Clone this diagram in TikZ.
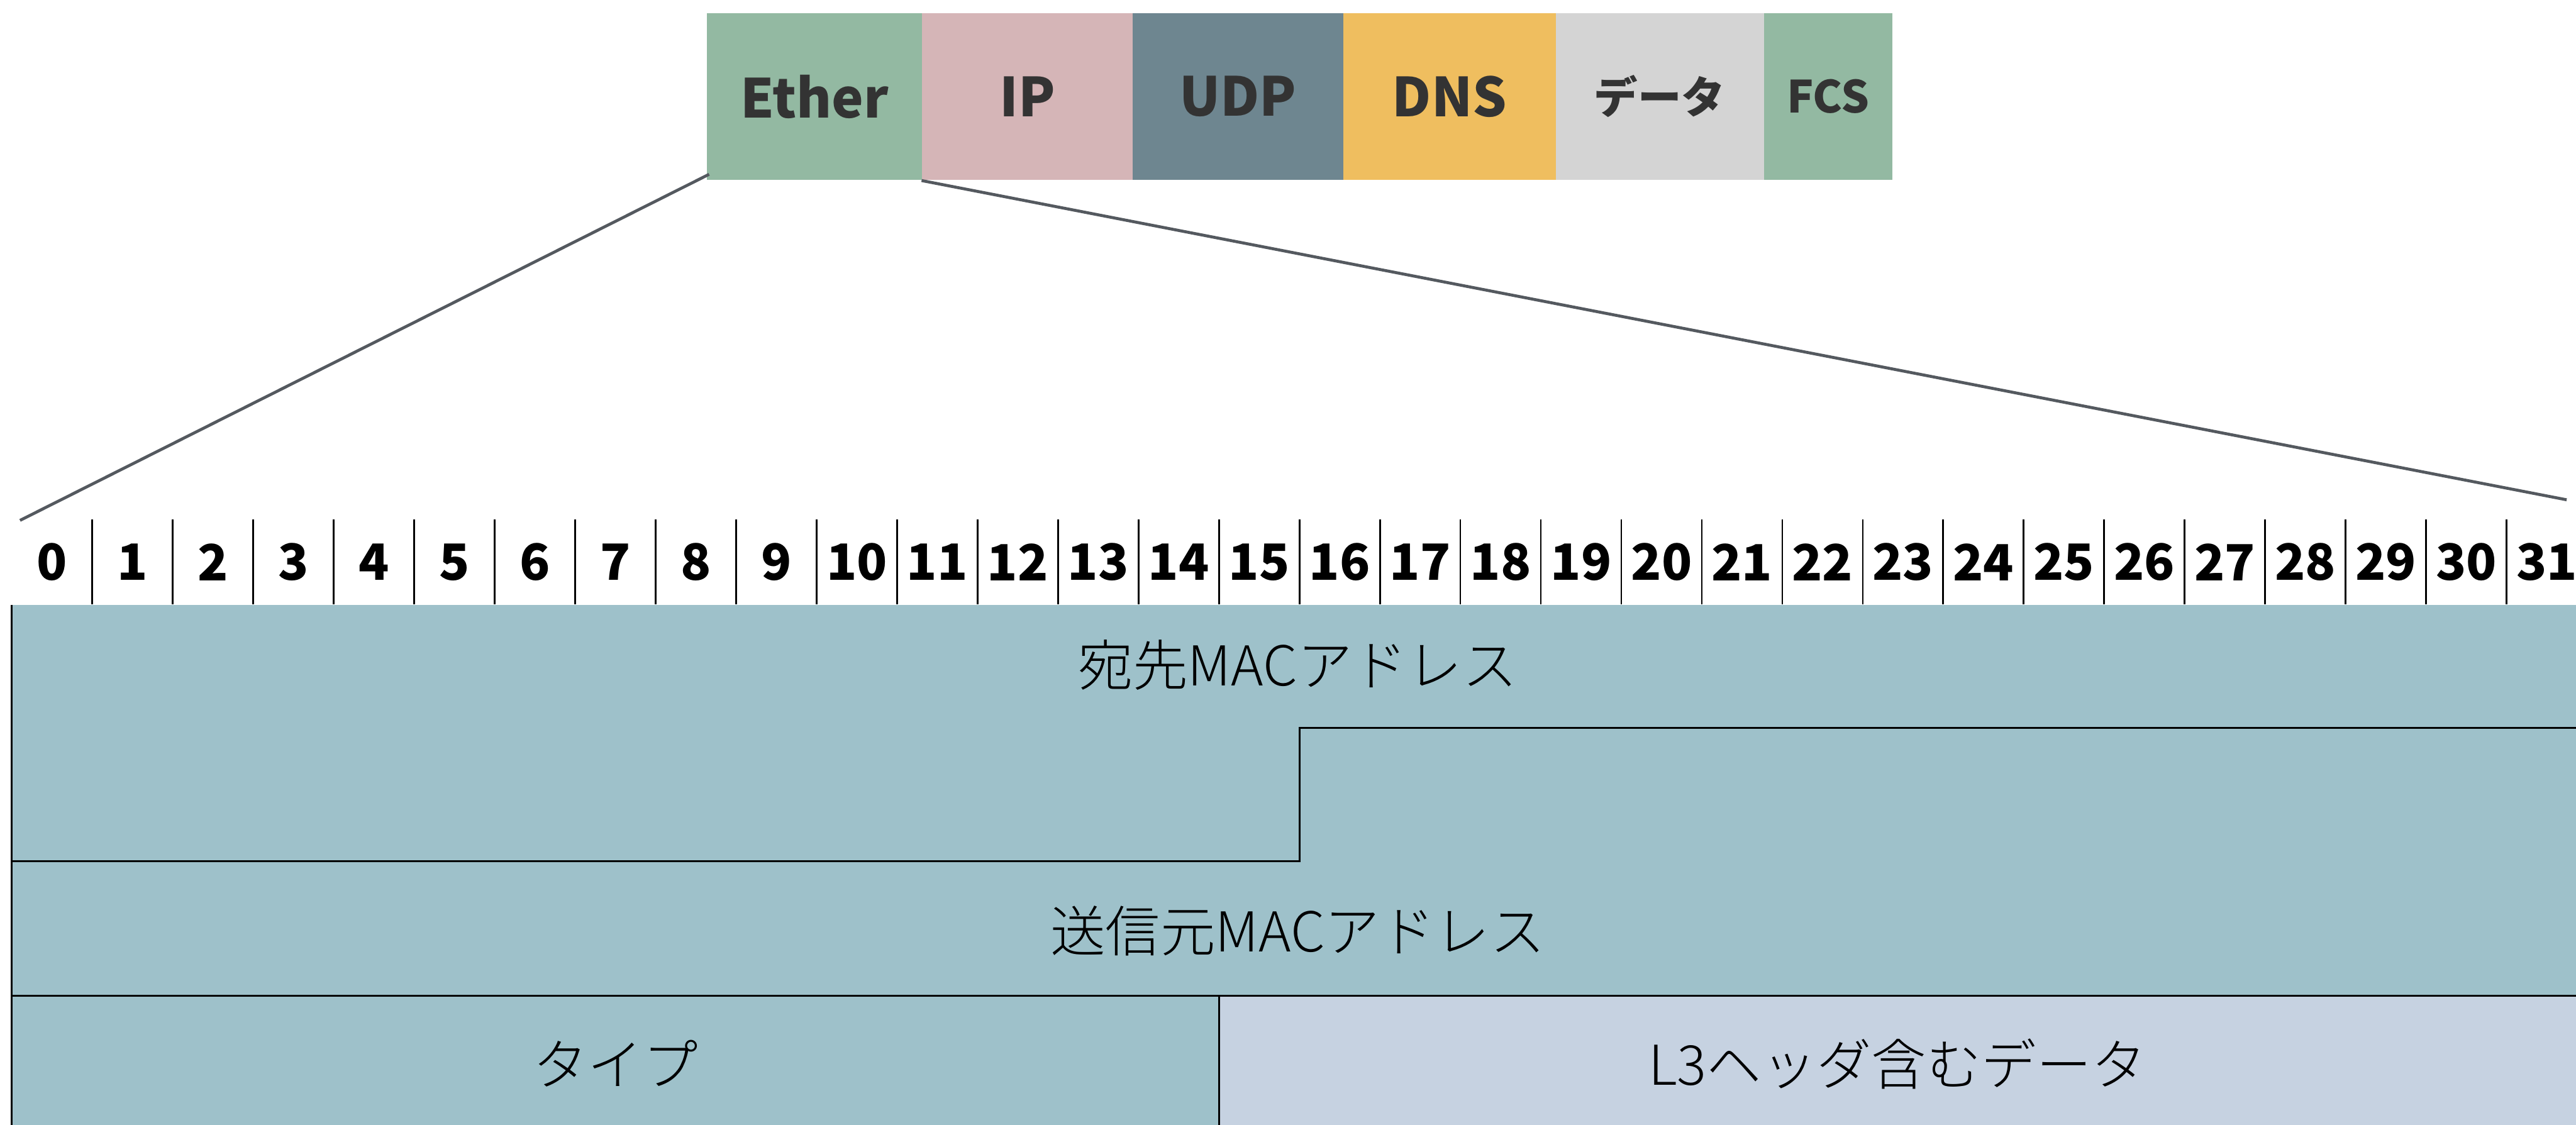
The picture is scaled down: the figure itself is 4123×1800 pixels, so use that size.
\documentclass[tikz,border=0pt]{standalone}
\usepackage{fontspec}
\setmainfont{Noto Sans CJK JP}
\newfontfamily\fieldfont{Noto Sans CJK JP Light}
\definecolor{cEther}{HTML}{93B9A2}
\definecolor{cIP}{HTML}{D5B5B7}
\definecolor{cUDP}{HTML}{6E8690}
\definecolor{cDNS}{HTML}{EFBE5F}
\definecolor{cData}{HTML}{D4D4D4}
\definecolor{cTeal}{HTML}{9EC1CA}
\definecolor{cL3}{HTML}{C6D2E1}
\definecolor{cLabel}{HTML}{333333}
\definecolor{cConn}{HTML}{54595F}
\tikzset{
  pkt/.style={rectangle, inner sep=0pt, minimum height=53.4pt, text=cLabel, font=\fontsize{17.2}{20}\selectfont\bfseries},
  bitlabel/.style={inner sep=0pt, font=\fontsize{16}{18}\selectfont\bfseries},
  tickline/.style={line width=0.55pt, black},
  fieldline/.style={line width=0.6pt, black},
  fieldtext/.style={inner sep=0pt, font=\fieldfont\fontsize{17.6}{20}\selectfont},
  conn/.style={line width=0.95pt, cConn}
}
\begin{document}
\begin{tikzpicture}[x=0.2pt,y=-0.2pt]
\useasboundingbox (0,0) rectangle (4123,1800);
\clip (0,0) rectangle (4123,1800);
% packet bar
\node[pkt, fill=cEther, minimum width=69pt] (ether) at (1303.5,154.5) {Ether};
\node[pkt, fill=cIP, minimum width=67.4pt] (ip) at (1644.5,154.5) {IP};
\node[pkt, fill=cUDP, minimum width=67.4pt] (udp) at (1981.5,154.5) {UDP};
\node[pkt, fill=cDNS, minimum width=68pt] (dns) at (2320,154.5) {DNS};
\node[pkt, fill=cData, minimum width=66.6pt, font=\fontsize{14}{16}\selectfont\bfseries] (data) at (2656.5,154.5) {データ};
\node[pkt, fill=cEther, minimum width=41.2pt, font=\fontsize{14.2}{16}\selectfont\bfseries] (fcs) at (2926,154.5) {FCS};
% connectors
\coordinate (lend) at (32,833);
\coordinate (rend) at (4108,800);
\draw[conn] ([shift={(5,-10)}]ether.south west) -- (lend);
\draw[conn] (ip.south west) -- (rend);
% bit ruler
\foreach \i in {0,...,31}
  \node[bitlabel] (b\i) at ({19+128.8*(\i+0.5)},900) {\i};
\foreach \i in {1,...,31}
  \draw[tickline] ({19+128.8*\i},831) -- ({19+128.8*\i},967);
% fields
\fill[cTeal] (19,968) rectangle (4141,1810);
\fill[cL3] (1951,1594) rectangle (4141,1810);
\draw[fieldline] (19,968) -- (19,1810);
\draw[fieldline] (4141,1165) -- (2080,1165) -- (2080,1379) -- (19,1379);
\draw[fieldline] (19,1594) -- (4141,1594);
\draw[fieldline] (1951,1594) -- (1951,1810);
\node[fieldtext] (dst) at (2077,1064) {宛先MACアドレス};
\node[fieldtext] (src) at (2077,1490) {送信元MACアドレス};
\node[fieldtext] (type) at (985,1702) {タイプ};
\node[fieldtext] (l3) at (3037,1703) {L3ヘッダ含むデータ};
\end{tikzpicture}
\end{document}
